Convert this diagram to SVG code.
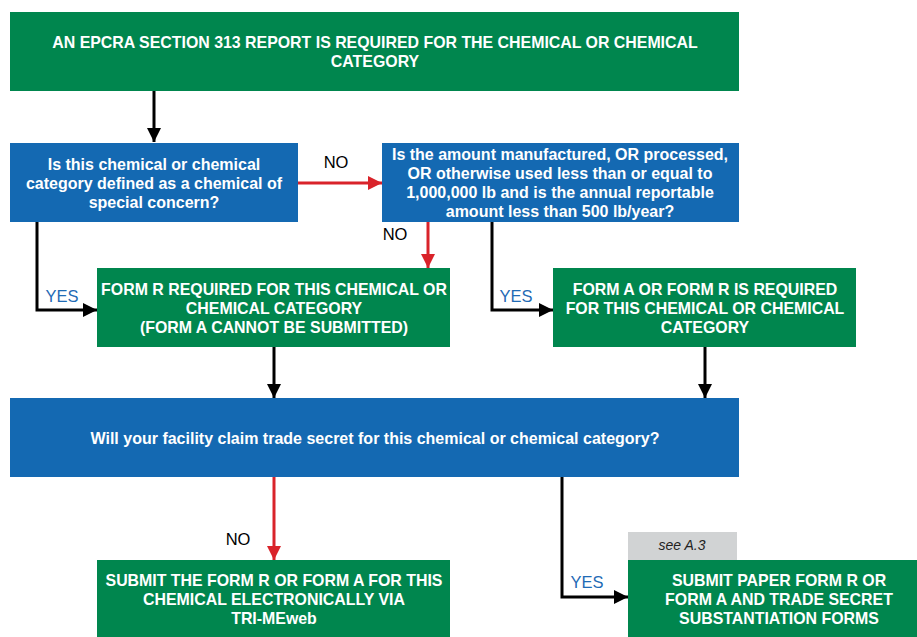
<svg xmlns="http://www.w3.org/2000/svg" width="917" height="637" viewBox="0 0 917 637">
<defs>
<style>
.g{fill:#00864e}
.b{fill:#1469b2}
.t{font-family:"Liberation Sans",Arial,sans-serif;font-weight:bold;font-size:15.9px;fill:#fff;text-anchor:middle}
.q{font-family:"Liberation Sans",Arial,sans-serif;font-weight:bold;font-size:16px;fill:#fff;text-anchor:middle}
.lab{font-family:"Liberation Sans",Arial,sans-serif;font-size:16.5px;text-anchor:middle}
.k{stroke:#000;stroke-width:3;fill:none}
.r{stroke:#d9232a;stroke-width:3;fill:none}
</style>
<marker id="ak" markerUnits="userSpaceOnUse" markerWidth="14" markerHeight="14" viewBox="0 0 14 14" refX="14" refY="7" orient="auto"><path d="M0,0 L14,7 L0,14 Z" fill="#000"/></marker>
<marker id="ar" markerUnits="userSpaceOnUse" markerWidth="14" markerHeight="14" viewBox="0 0 14 14" refX="14" refY="7" orient="auto"><path d="M0,0 L14,7 L0,14 Z" fill="#d9232a"/></marker>
</defs>
<rect width="917" height="637" fill="#fff"/>

<g id="connectors">
<path class="k" d="M154,91 V142" marker-end="url(#ak)"/>
<path class="r" d="M298,183 H382" marker-end="url(#ar)"/>
<text class="lab" x="336" y="168">NO</text>
<path class="r" d="M428,222 V268" marker-end="url(#ar)"/>
<text class="lab" x="395" y="240">NO</text>
<path class="k" d="M37,222 V310 H97" marker-end="url(#ak)"/>
<text class="lab" x="62" y="302" fill="#1f6bb5">YES</text>
<path class="k" d="M492,222 V310 H553" marker-end="url(#ak)"/>
<text class="lab" x="516" y="302" fill="#1f6bb5">YES</text>
<path class="k" d="M274,347 V398" marker-end="url(#ak)"/>
<path class="k" d="M705,347 V398" marker-end="url(#ak)"/>
<path class="r" d="M274,477 V560" marker-end="url(#ar)"/>
<text class="lab" x="238" y="545">NO</text>
<path class="k" d="M562,477 V597 H628" marker-end="url(#ak)"/>
<text class="lab" x="587" y="588" fill="#1f6bb5">YES</text>
</g>

<g id="start">
<rect class="g" x="10" y="12" width="729" height="79"/>
<text class="t" x="375" y="48">AN EPCRA SECTION 313 REPORT IS REQUIRED FOR THE CHEMICAL OR CHEMICAL</text>
<text class="t" x="375" y="67">CATEGORY</text>
</g>

<g id="q1">
<rect class="b" x="10" y="143" width="288" height="79"/>
<text class="q" x="154" y="170">Is this chemical or chemical</text>
<text class="q" x="154" y="189">category defined as a chemical of</text>
<text class="q" x="154" y="208">special concern?</text>
</g>

<g id="q2">
<rect class="b" x="382" y="143" width="357" height="79"/>
<text class="q" x="560" y="160">Is the amount manufactured, OR processed,</text>
<text class="q" x="560" y="179">OR otherwise used less than or equal to</text>
<text class="q" x="560" y="198">1,000,000 lb and is the annual reportable</text>
<text class="q" x="560" y="217">amount less than 500 lb/year?</text>
</g>

<g id="formR">
<rect class="g" x="97" y="268" width="353" height="79"/>
<text class="t" x="274" y="295">FORM R REQUIRED FOR THIS CHEMICAL OR</text>
<text class="t" x="274" y="314">CHEMICAL CATEGORY</text>
<text class="t" x="274" y="333">(FORM A CANNOT BE SUBMITTED)</text>
</g>

<g id="formAorR">
<rect class="g" x="553" y="268" width="303" height="79"/>
<text class="t" x="705" y="295">FORM A OR FORM R IS REQUIRED</text>
<text class="t" x="705" y="314">FOR THIS CHEMICAL OR CHEMICAL</text>
<text class="t" x="705" y="333">CATEGORY</text>
</g>

<g id="q3">
<rect class="b" x="10" y="398" width="729" height="79"/>
<text class="q" x="375" y="444">Will your facility claim trade secret for this chemical or chemical category?</text>
</g>

<g id="electronic">
<rect class="g" x="97" y="560" width="353" height="77"/>
<text class="t" x="274" y="586">SUBMIT THE FORM R OR FORM A FOR THIS</text>
<text class="t" x="274" y="605">CHEMICAL ELECTRONICALLY VIA</text>
<text class="t" x="274" y="624">TRI-MEweb</text>
</g>

<g id="note">
<rect x="628" y="532" width="109" height="28" fill="#d1d3d4"/>
<text x="682" y="550" font-family="Liberation Sans,Arial,sans-serif" font-style="italic" font-size="14" text-anchor="middle" fill="#222">see A.3</text>
</g>

<g id="paper">
<rect class="g" x="628" y="560" width="289" height="77"/>
<text class="t" x="779" y="586">SUBMIT PAPER FORM R OR</text>
<text class="t" x="779" y="605">FORM A AND TRADE SECRET</text>
<text class="t" x="779" y="624">SUBSTANTIATION FORMS</text>
</g>
</svg>
